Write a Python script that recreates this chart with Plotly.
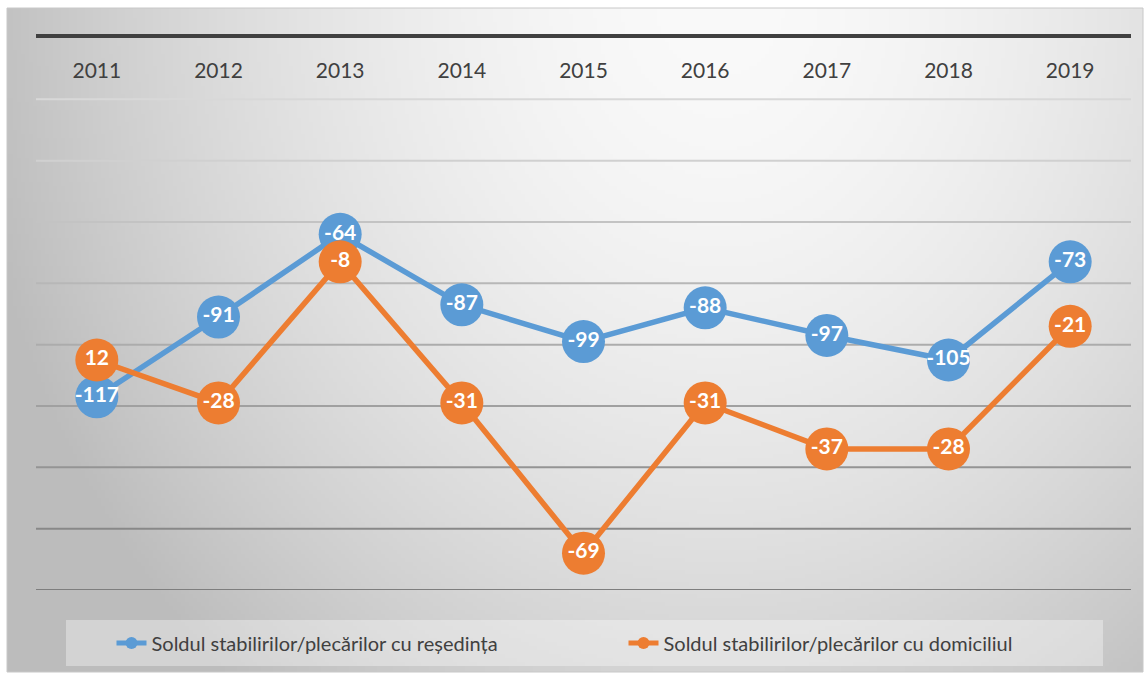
import zlib, struct, base64
import numpy as np
import plotly.graph_objects as go

# ---------------- data ----------------
years = ["2011", "2012", "2013", "2014", "2015", "2016", "2017", "2018", "2019"]
resedinta = [-117, -91, -64, -87, -99, -88, -97, -105, -73]
# plotted positions of the orange series (in axis units)
domiciliu_plot = [-105, -119, -73, -119, -168, -119, -134, -134, -94]
# data labels shown on the orange series
domiciliu_labels = [12, -28, -8, -31, -69, -31, -37, -28, -21]
grid_values = [-20, -40, -60, -80, -100, -120, -140, -160, -180]
grid_colors = ["#d8d8d8", "#d0d0d0", "#c3c3c3", "#b7b7b7", "#acacac",
               "#a0a0a0", "#949494", "#888888", "#7e7e7e"]
name_res = "Soldul stabilirilor/plecărilor cu reședința"
name_dom = "Soldul stabilirilor/plecărilor cu domiciliul"

BLUE = "#5b9bd5"
ORANGE = "#ed7d31"
W, H = 1145, 674
ML, MR, MT, MB = 36, 14, 38, 84
PW, PH = W - ML - MR, H - MT - MB


def px_x(px):
    return (px - ML) / PW


def px_y(py):
    return (H - MB - py) / PH


# ---------------- background gradient image ----------------
FX0, FY0, FX1, FY1 = 7, 8, 1143, 672
GW, GH = 284, 166
gx = FX0 + (np.arange(GW) + 0.5) / GW * (FX1 - FX0)
gy = FY0 + (np.arange(GH) + 0.5) / GH * (FY1 - FY0)
GX, GY = np.meshgrid(gx, gy)
r = np.sqrt(((GX - 720) / 760) ** 2 + ((GY - 0) / 900) ** 2)
r = np.clip(r, 0, 1)
img = (250 - 62 * r ** 1.7).astype(np.uint8)
raw = b"".join(b"\x00" + bytes(row) for row in img)


def chunk(t, d):
    return struct.pack(">I", len(d)) + t + d + struct.pack(">I", zlib.crc32(t + d) & 0xffffffff)


png = (b"\x89PNG\r\n\x1a\n"
       + chunk(b"IHDR", struct.pack(">IIBBBBB", GW, GH, 8, 0, 0, 0, 0))
       + chunk(b"IDAT", zlib.compress(raw))
       + chunk(b"IEND", b""))
src = "data:image/png;base64," + base64.b64encode(png).decode()

# ---------------- figure ----------------
fig = go.Figure()
fig.add_trace(go.Scatter(x=years, y=resedinta, name=name_res, mode="lines+markers",
                         line=dict(color=BLUE, width=5.5),
                         marker=dict(color=BLUE, size=43)))
fig.add_trace(go.Scatter(x=years, y=domiciliu_plot, name=name_dom, mode="lines+markers",
                         line=dict(color=ORANGE, width=5.5),
                         marker=dict(color=ORANGE, size=43)))
fig.add_trace(go.Scatter(x=years, y=resedinta, mode="text", showlegend=False,
                         text=[str(v) for v in resedinta], textposition="middle center",
                         textfont=dict(family="Lato", size=21, color="white", weight="bold"),
                         hoverinfo="skip"))
fig.add_trace(go.Scatter(x=years, y=domiciliu_plot, mode="text", showlegend=False,
                         text=[str(v) for v in domiciliu_labels], textposition="middle center",
                         textfont=dict(family="Lato", size=21, color="white", weight="bold"),
                         hoverinfo="skip"))

shapes = []
# outer frame
shapes.append(dict(type="rect", xref="paper", yref="paper",
                   x0=px_x(FX0), x1=px_x(FX1), y0=px_y(FY1), y1=px_y(FY0),
                   line=dict(color="#c8c8c8", width=1), fillcolor="rgba(0,0,0,0)", layer="below"))
# gridlines
for v, c in zip(grid_values, grid_colors):
    shapes.append(dict(type="line", xref="paper", yref="y", x0=0, x1=1, y0=v, y1=v,
                       line=dict(color=c, width=2), layer="below"))
# legend box
shapes.append(dict(type="rect", xref="paper", yref="paper",
                   x0=px_x(66), x1=px_x(1103), y0=px_y(666), y1=px_y(620),
                   line=dict(width=0), fillcolor="rgba(255,255,255,0.35)", layer="below"))

fig.update_layout(
    width=W, height=H,
    margin=dict(l=ML, r=MR, t=MT, b=MB, autoexpand=False),
    paper_bgcolor="white",
    plot_bgcolor="rgba(0,0,0,0)",
    font=dict(family="Lato", color="#404040"),
    images=[dict(source=src, xref="paper", yref="paper",
                 x=px_x(FX0), y=px_y(FY0), sizex=px_x(FX1) - px_x(FX0),
                 sizey=px_y(FY0) - px_y(FY1), sizing="stretch",
                 xanchor="left", yanchor="top", layer="below")],
    shapes=shapes,
    showlegend=True,
    legend=dict(orientation="h", x=px_x(623.5), xanchor="center", y=px_y(643), yanchor="middle",
                font=dict(family="Lato", size=20, color="#404040"),
                bgcolor="rgba(0,0,0,0)", itemsizing="constant", entrywidth=467),
    xaxis=dict(type="category", range=[-0.5, 8.5], side="top",
               showline=True, linecolor="#404040", linewidth=4,
               showgrid=False, zeroline=False,
               ticks="inside", ticklen=27, tickcolor="rgba(0,0,0,0)",
               ticklabelposition="inside",
               tickfont=dict(family="Lato", size=21, color="#404040")),
    yaxis=dict(range=[-180, 0], showgrid=False, zeroline=False,
               showticklabels=False, showline=False),
)

fig.write_html("out.html", config={"displayModeBar": False},
               post_script="document.body.style.margin='0';")
